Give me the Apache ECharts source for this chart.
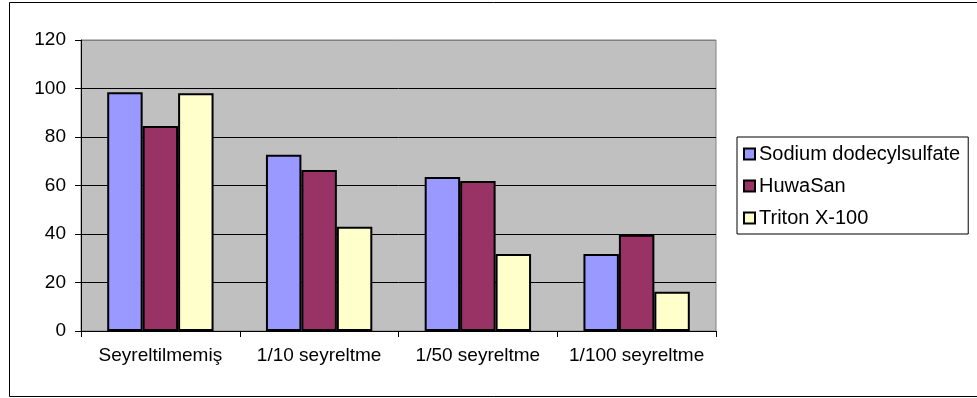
<!DOCTYPE html>
<html>
<head>
<meta charset="utf-8">
<style>
  html, body { margin: 0; padding: 0; background: #ffffff; }
  #chart { width: 977px; height: 398px; }
</style>
<script src="https://cdn.jsdelivr.net/npm/echarts@6/dist/echarts.min.js"></script>
</head>
<body>
<div id="chart"></div>
<script>
// Dilution levels on the category axis
const categories = ['Seyreltilmemiş', '1/10 seyreltme', '1/50 seyreltme', '1/100 seyreltme'];

// Values per agent
const sdsValues = [98.5, 72.7, 63.5, 31.8];
const huwaSanValues = [84.5, 66.4, 61.9, 39.7];
const tritonValues = [98.0, 43.0, 31.8, 16.2];

const seriesNames = ['Sodium dodecylsulfate', 'HuwaSan', 'Triton X-100'];
const seriesColors = ['#9999FF', '#993366', '#FFFFCC'];

// Value axis ticks
const yMin = 0, yMax = 120, yStep = 20;

const FONT = '"Liberation Sans", Arial, sans-serif';

const chart = echarts.init(document.getElementById('chart'), null, { renderer: 'canvas' });

const valueSets = [sdsValues, huwaSanValues, tritonValues];
const series = valueSets.map((vals, i) => ({
  name: seriesNames[i],
  type: 'bar',
  data: vals,
  barGap: '0%',
  barCategoryGap: '33%',
  itemStyle: { color: seriesColors[i], borderColor: '#000', borderWidth: 2 },
  emphasis: { disabled: true },
  animation: false
}));

// Split lines: black inside the plot, grey on the top border line
const splitColors = [];
for (let v = yMin; v <= yMax; v += yStep) splitColors.push(v === yMax ? '#808080' : '#000000');

chart.setOption({
  animation: false,
  backgroundColor: '#ffffff',
  textStyle: { fontFamily: FONT },
  graphic: [{
    type: 'rect',
    shape: { x: 9.5, y: 2.5, width: 990, height: 394 },
    style: { fill: 'none', stroke: '#000', lineWidth: 1 },
    silent: true,
    z: 0
  }],
  grid: {
    left: 81, right: 261, top: 40, bottom: 67,
    show: true,
    backgroundColor: '#C0C0C0',
    borderColor: '#808080',
    borderWidth: 1
  },
  legend: {
    orient: 'vertical',
    left: 737, top: 137,
    padding: [7, 8, 6, 6],
    itemWidth: 11, itemHeight: 11,
    itemGap: 12,
    borderColor: '#000', borderWidth: 1,
    backgroundColor: '#fff',
    icon: 'rect',
    data: seriesNames.map((n) => ({ name: n, itemStyle: { borderColor: '#000', borderWidth: 2 } })),
    textStyle: { fontFamily: FONT, fontSize: 20, color: '#000', padding: [0, 0, 0, -1] },
    selectedMode: false
  },
  xAxis: {
    type: 'category',
    data: categories,
    axisLine: { show: true, lineStyle: { color: '#000', width: 1 } },
    axisTick: { show: true, alignWithLabel: false, length: 6, lineStyle: { color: '#000' } },
    axisLabel: { fontFamily: FONT, fontSize: 19, color: '#000', margin: 15, interval: 0, hideOverlap: false },
    splitLine: { show: false }
  },
  yAxis: {
    type: 'value',
    min: yMin, max: yMax, interval: yStep,
    axisLine: { show: true, lineStyle: { color: '#000', width: 1 } },
    axisTick: { show: true, length: 6, lineStyle: { color: '#000' } },
    axisLabel: { fontFamily: FONT, fontSize: 19, color: '#000', margin: 15 },
    splitLine: { show: true, lineStyle: { color: splitColors, width: 1 } }
  },
  series: series
});
</script>
</body>
</html>
